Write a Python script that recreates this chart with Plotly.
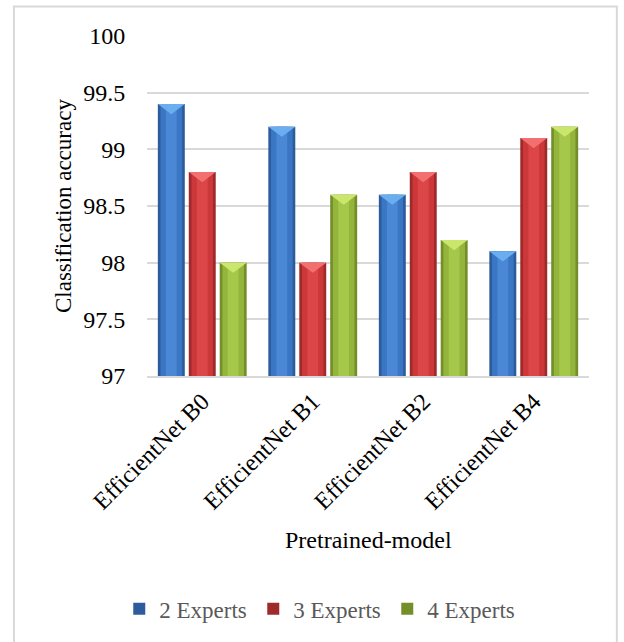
import plotly.graph_objects as go

# Classification accuracy per pretrained backbone and number of experts
models = ["EfficientNet B0", "EfficientNet B1", "EfficientNet B2", "EfficientNet B4"]
series_names = ["2 Experts", "3 Experts", "4 Experts"]
acc_2_experts = [99.4, 99.2, 98.6, 98.1]
acc_3_experts = [98.8, 98.0, 98.8, 99.1]
acc_4_experts = [98.0, 98.6, 98.2, 99.2]
y_ticks = [97, 97.5, 98, 98.5, 99, 99.5, 100]

series_values = [acc_2_experts, acc_3_experts, acc_4_experts]

# edge / body / highlight / bevel colours for each series
palettes = [
    dict(edge="#2c5c9c", body="#3b76c4", light="#4a88d6", bevel="#6aaef0"),
    dict(edge="#9e2a2b", body="#cc3739", light="#dc4648", bevel="#f37070"),
    dict(edge="#748f2a", body="#93b53b", light="#a6c84a", bevel="#cbe66c"),
]

FONT = "Liberation Serif, Times New Roman, serif"
BASE = 97.0
step = 0.28        # distance between bars inside a group
bar_w = 0.244      # bar width in category units
bevel_depth = 0.09

fig = go.Figure()

for j, (name, vals, pal) in enumerate(zip(series_names, series_values, palettes)):
    xs = [i + (j - 1) * step for i in range(len(models))]
    heights = [v - BASE for v in vals]
    # outer bar (darker edge) - also the legend entry
    fig.add_trace(go.Bar(
        x=xs, y=heights, base=BASE, width=bar_w, name=name,
        marker=dict(color=pal["edge"], line=dict(width=0)),
        legendgroup=name, showlegend=True,
    ))
    # body and highlight bands for a rounded look
    for frac, col in ((0.8, pal["body"]), (0.4, pal["light"])):
        fig.add_trace(go.Bar(
            x=xs, y=heights, base=BASE, width=bar_w * frac,
            marker=dict(color=col, line=dict(width=0)),
            legendgroup=name, showlegend=False, hoverinfo="skip",
        ))
    # bevelled top face
    tx, ty = [], []
    for x, v in zip(xs, vals):
        tx += [x - bar_w / 2, x + bar_w / 2, x, x - bar_w / 2, None]
        ty += [v, v, v - bevel_depth, v, None]
    fig.add_trace(go.Scatter(
        x=tx, y=ty, mode="lines", fill="toself", fillcolor=pal["bevel"],
        line=dict(width=0, color=pal["bevel"]),
        showlegend=False, hoverinfo="skip",
    ))

fig.update_layout(
    width=624, height=642,
    margin=dict(l=147, r=35, t=36, b=266),
    paper_bgcolor="white", plot_bgcolor="white",
    barmode="overlay",
    font=dict(family=FONT, size=24, color="#000000"),
    showlegend=True,
    legend=dict(
        orientation="h", x=0.392, xanchor="center", y=-0.685, yanchor="middle",
        font=dict(family=FONT, size=23, color="#595959"),
        traceorder="normal", itemwidth=30,
        entrywidth=89, entrywidthmode="pixels",
    ),
    xaxis=dict(
        range=[-0.5, 3.5],
        tickmode="array", tickvals=list(range(len(models))), ticktext=models,
        tickangle=-45, ticks="outside", ticklen=0, tickcolor="rgba(0,0,0,0)",
        showgrid=False, zeroline=False,
        showline=True, linecolor="#d9d9d9", linewidth=2,
        tickfont=dict(family=FONT, size=24, color="#000000"),
    ),
    yaxis=dict(
        range=[97, 100], tickmode="array", tickvals=y_ticks,
        ticktext=[f"{t:g}" for t in y_ticks],
        ticks="outside", ticklen=16, tickcolor="rgba(0,0,0,0)",
        showgrid=True, gridcolor="#d9d9d9", gridwidth=2,
        zeroline=False, showline=False,
        tickfont=dict(family=FONT, size=24, color="#000000"),
    ),
    annotations=[
        dict(text="Classification accuracy", xref="paper", yref="paper",
             x=-0.19, y=0.5, textangle=-90, showarrow=False,
             xanchor="center", yanchor="middle",
             font=dict(family=FONT, size=23, color="#000000")),
        dict(text="Pretrained-model", xref="paper", yref="paper",
             x=0.5, y=-0.482, showarrow=False,
             xanchor="center", yanchor="middle",
             font=dict(family=FONT, size=24, color="#000000")),
    ],
    shapes=[
        dict(type="rect", xref="paper", yref="paper",
             x0=-0.301, x1=1.063, y0=-0.83, y1=1.087,
             line=dict(color="#d9d9d9", width=2), fillcolor="rgba(0,0,0,0)",
             layer="below"),
    ],
)

fig.write_html("out.html")
